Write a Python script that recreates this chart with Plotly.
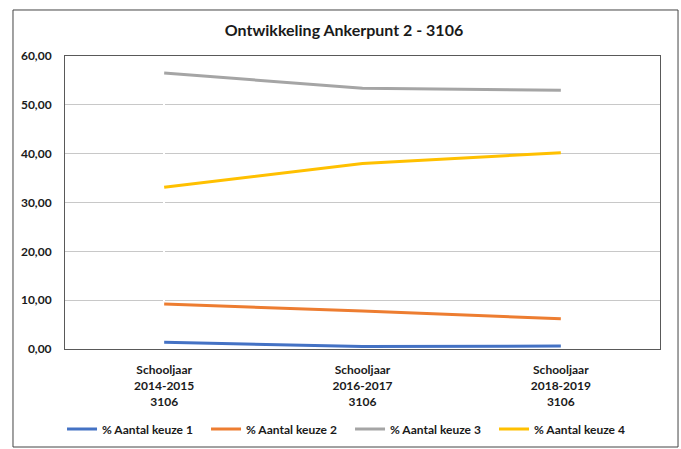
import plotly.graph_objects as go

categories = ["Schooljaar<br>2014-2015<br>3106", "Schooljaar<br>2016-2017<br>3106", "Schooljaar<br>2018-2019<br>3106"]
keuze1 = [1.4, 0.5, 0.6]
keuze2 = [9.2, 7.8, 6.2]
keuze3 = [56.5, 53.4, 53.0]
keuze4 = [33.1, 38.0, 40.2]
series_names = ["% Aantal keuze 1", "% Aantal keuze 2", "% Aantal keuze 3", "% Aantal keuze 4"]
colors = ["#4472C4", "#ED7D31", "#A5A5A5", "#FFC000"]

FONT = "Lato"
fig = go.Figure()
xs = list(range(len(categories)))
for name, vals, c in zip(series_names, [keuze1, keuze2, keuze3, keuze4], colors):
    fig.add_trace(go.Scatter(x=xs, y=vals, mode="lines", name="<b>%s</b>" % name,
                             line=dict(color=c, width=3)))

fig.update_layout(
    width=681, height=449,
    margin=dict(l=65, r=21, t=56, b=100, autoexpand=False),
    paper_bgcolor="white", plot_bgcolor="white",
    separators=",.",
    font=dict(family=FONT, size=12, color="#1a1a1a"),
    title=dict(text="<b>Ontwikkeling Ankerpunt 2 - 3106</b>", x=(344 / 681), xanchor="center",
               y=1 - 30/449, yanchor="middle", font=dict(size=16, family=FONT, color="#1a1a1a")),
    showlegend=True,
    legend=dict(orientation="h", x=-0.005, xanchor="left", y=-0.273, yanchor="middle",
                font=dict(size=12, family=FONT, color="#1a1a1a"), traceorder="normal",
                itemwidth=30, entrywidth=99, entrywidthmode="pixels", tracegroupgap=0),
    xaxis=dict(tickmode="array", tickvals=xs, ticktext=["<b>%s</b>" % c for c in categories],
               range=[-0.5, 2.5], showgrid=False, showline=True, linecolor="#595959",
               linewidth=1, mirror=True, ticks="", tickfont=dict(size=12), automargin=False,
               ticklabelstandoff=10),
    yaxis=dict(range=[0, 60], dtick=10, tickformat=".2f", showgrid=True, gridcolor="#C8C8C8",
               gridwidth=1, showline=True, linecolor="#595959", linewidth=1, mirror=True,
               ticks="", zeroline=False, tickfont=dict(size=12), ticklabelstandoff=10,
               automargin=False),
)
fig.update_yaxes(tickprefix="<b>", ticksuffix="</b>")
fig.add_shape(type="rect", xref="paper", yref="paper", x0=-0.0874, x1=1.0303, y0=-0.3345, y1=1.157,
              line=dict(color="#444444", width=1), fillcolor="rgba(0,0,0,0)")
fig.write_html("out.html", config={"displayModeBar": False},
               post_script="document.body.style.margin='0';")
